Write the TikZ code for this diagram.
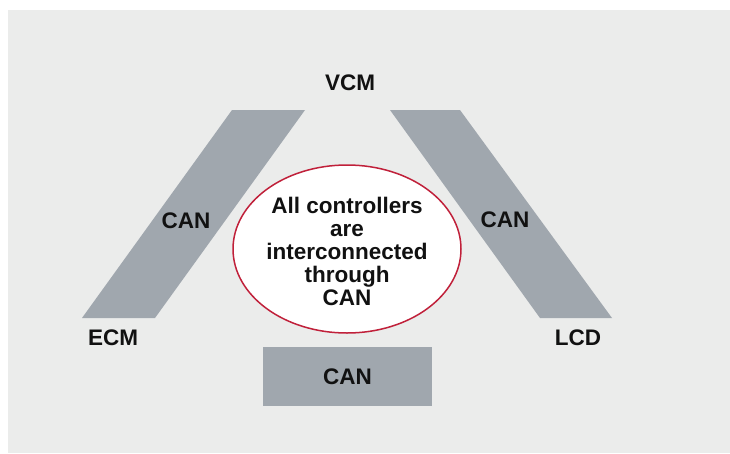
\documentclass[tikz,border=0pt]{standalone}
\usepackage{fontspec}
\setmainfont{Liberation Sans}
\usetikzlibrary{shapes.geometric}
\definecolor{bgray}{HTML}{EBECEB}
\definecolor{band}{HTML}{A0A7AE}
\definecolor{ered}{HTML}{C0203A}
\definecolor{txt}{HTML}{111111}
\tikzset{
  lbl/.style={font=\bfseries\fontsize{22.5}{23}\selectfont, text=txt, inner sep=0pt},
  bandshape/.style={fill=band, draw=none},
}
\begin{document}
\begin{tikzpicture}[x=1pt,y=-1pt]
\useasboundingbox (0,0) rectangle (730,453);
\fill[white] (0,0) rectangle (730,453);
\fill[bgray] (8,10) rectangle (730,453);
% bands
\fill[bandshape] (232,110) -- (305,110) -- (155,318) -- (82,318) -- cycle;
\fill[bandshape] (390,110) -- (460,110) -- (612,318) -- (540,318) -- cycle;
\node[bandshape, minimum width=169pt, minimum height=59pt, inner sep=0pt] (canbox) at (347.5,376.5) {};
% ellipse
\node[ellipse, draw=ered, line width=1.5pt, fill=white, minimum width=228pt, minimum height=168pt, inner sep=0pt] (ell) at (347,249) {};
\node[lbl, align=center] (elltext) at (347,251) {All controllers\\are\\interconnected\\through\\CAN};
% labels
\node[lbl] (vcm) at (350,83) {VCM};
\node[lbl] (canl) at (186,221) {CAN};
\node[lbl] (canr) at (505,220) {CAN};
\node[lbl] (ecm) at (113,338) {ECM};
\node[lbl] (lcd) at (578,338) {LCD};
\node[lbl] (canb) at (canbox.center) {CAN};
\end{tikzpicture}
\end{document}
